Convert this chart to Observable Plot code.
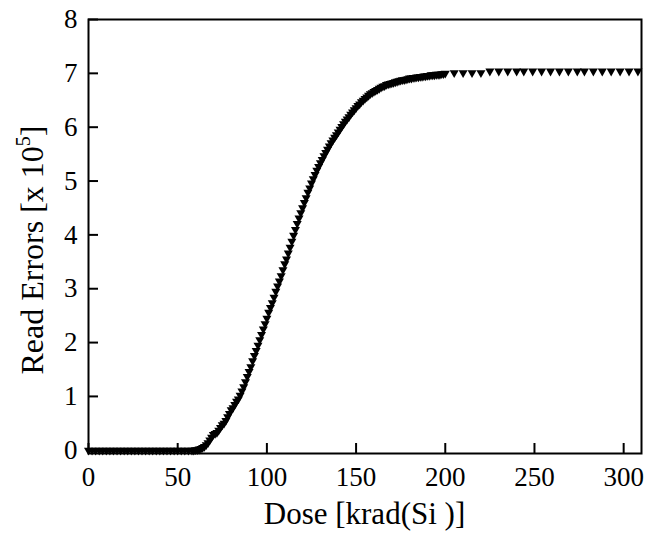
<!DOCTYPE html>
<html>
<head>
<meta charset="utf-8">
<script src="https://cdn.jsdelivr.net/npm/d3@7"></script>
<script src="https://cdn.jsdelivr.net/npm/@observablehq/plot@0.6"></script>
<style>
  html, body { margin: 0; padding: 0; background: #fff; }
</style>
</head>
<body>
<div id="chart"></div>
<script>
// Dose [krad(Si)]
const doses = [
  0,2,4,6,8,10,12,14,16,18,20,22,24,26,28,30,32,34,36,38,40,42,44,46,48,50,52,54,56,58,
  59,60,61,62,63,64,65,66,67,68,
  69,70,71,72,73,74,75,76,77,78,
  79,80,81,82,83,84,85,86,87,88,
  89,90,91,92,93,94,95,96,97,98,
  99,100,101,102,103,104,105,106,107,108,
  109,110,111,112,113,114,115,116,117,118,
  119,120,121,122,123,124,125,126,127,128,
  129,130,131,132,133,134,135,136,137,138,
  139,140,141,142,143,144,145,146,147,148,
  149,150,151,152,153,154,155,156,157,158,
  159,160,161,162,163,164,165,166,167,168,
  169,170,171,172,173,174,175,176,177,178,
  179,180,181,182,183,184,185,186,187,188,
  189,190,191,192,193,194,195,196,197,198,
  199,200,
  205,210,215,220,
  225,230,235,240,244,249,254,259,264,269,274,278,283,288,293,298,303,308
];
// Read errors [x 10^5]
const errors = [
  0,0,0,0,0,0,0,0,0,0,0,0,0,0,0,0,0,0,0,0,0,0,0,0,0,0,0,0,0,0,
  0.00,0.01,0.01,0.02,0.03,0.05,0.07,0.10,0.14,0.19,
  0.24,0.29,0.31,0.33,0.37,0.42,0.47,0.50,0.55,0.62,
  0.68,0.75,0.79,0.85,0.91,0.95,1.02,1.10,1.18,1.27,
  1.37,1.46,1.55,1.66,1.76,1.85,1.95,2.05,2.15,2.25,
  2.35,2.45,2.56,2.65,2.74,2.84,2.95,3.05,3.14,3.24,
  3.35,3.46,3.55,3.66,3.77,3.88,3.99,4.10,4.21,4.31,
  4.41,4.50,4.60,4.69,4.79,4.87,4.96,5.04,5.12,5.20,
  5.27,5.34,5.40,5.47,5.53,5.59,5.65,5.71,5.76,5.81,
  5.86,5.91,5.96,6.01,6.06,6.11,6.15,6.19,6.24,6.28,
  6.32,6.36,6.40,6.43,6.47,6.50,6.53,6.56,6.59,6.62,
  6.64,6.66,6.68,6.70,6.72,6.74,6.76,6.77,6.79,6.80,
  6.81,6.82,6.83,6.84,6.85,6.86,6.87,6.88,6.88,6.89,
  6.90,6.91,6.91,6.92,6.92,6.93,6.93,6.94,6.94,6.95,
  6.95,6.96,6.96,6.97,6.97,6.97,6.98,6.98,6.98,6.99,
  6.99,7.00,
  7.01,7.01,7.01,7.01,
  7.04,7.04,7.04,7.04,7.04,7.04,7.04,7.04,7.04,7.04,7.04,7.04,7.04,7.04,7.04,7.04,7.04,7.04
];
const xTicks = [0, 50, 100, 150, 200, 250, 300];
const yTicks = [0, 1, 2, 3, 4, 5, 6, 7, 8];
const xLabel = "Dose [krad(Si )]";
const yLabelMain = "Read Errors [x 10";
const yLabelSup = "5";
const yLabelEnd = "]";

const data = doses.map((d, i) => ({dose: d, err: errors[i]}));

const W = 649, H = 534;
const mL = 88, mR = 8, mT = 19, mB = 81;
const frameW = W - mL - mR, frameH = H - mT - mB;

const chart = Plot.plot({
  width: W,
  height: H,
  marginLeft: mL,
  marginRight: mR,
  marginTop: mT,
  marginBottom: mB,
  style: {fontFamily: "'Liberation Serif', 'Times New Roman', serif", fontSize: "27px", background: "#fff", color: "#000", overflow: "visible"},
  x: {domain: [0, 310]},
  y: {domain: [-0.06, 8]},
  marks: [
    Plot.dot(data, {x: "dose", y: "err", symbol: "triangle", rotate: 180, r: 3.35, fill: "#000", stroke: "none"}),
    Plot.tickX(xTicks, {x: d => d, stroke: "#000", strokeWidth: 2, insetTop: frameH - 10}),
    Plot.tickY(yTicks, {y: d => d, stroke: "#000", strokeWidth: 2, insetRight: frameW - 10}),
    Plot.axisX(xTicks, {tickSize: 0, tickPadding: 13, label: null, fontSize: 27, tickFormat: d3.format("d")}),
    Plot.axisY(yTicks, {tickSize: 0, tickPadding: 11, label: null, fontSize: 27, tickFormat: d3.format("d")}),
    Plot.frame({stroke: "#000", strokeWidth: 2})
  ]
});

const svg = d3.select(chart);
svg.append("text")
  .attr("x", mL + frameW / 2)
  .attr("y", 524)
  .attr("text-anchor", "middle")
  .attr("font-size", 31)
  .attr("fill", "#000")
  .text(xLabel);

const yl = svg.append("text")
  .attr("transform", `translate(43,250) rotate(-90)`)
  .attr("text-anchor", "middle")
  .attr("font-size", 32)
  .attr("fill", "#000");
yl.append("tspan").text(yLabelMain);
yl.append("tspan").attr("font-size", 20).attr("dy", -13).text(yLabelSup);
yl.append("tspan").attr("dy", 13).text(yLabelEnd);

document.getElementById("chart").appendChild(chart);
</script>
</body>
</html>
